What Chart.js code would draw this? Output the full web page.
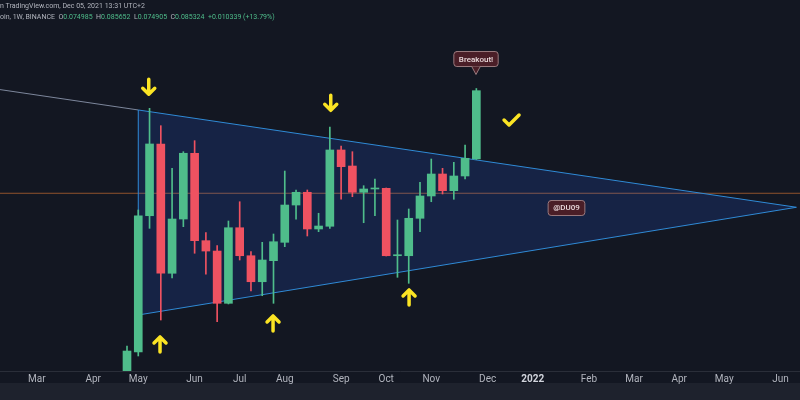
<!DOCTYPE html>
<html>
<head>
<meta charset="utf-8">
<script src="https://cdn.jsdelivr.net/npm/chart.js@4.4.0/dist/chart.umd.min.js"></script>
<style>
  html, body { margin: 0; padding: 0; background: #131722; }
</style>
</head>
<body>
<canvas id="chart" width="800" height="400"></canvas>
<script>
// weekly ETH/BTC candles, x = week number counted from Mon Mar 1 2021
const weeks  = [8, 9, 10, 11, 12, 13, 14, 15, 16, 17, 18, 19, 20, 21, 22, 23, 24, 25, 26, 27, 28, 29, 30, 31, 32, 33, 34, 35, 36, 37, 38, 39];
const opens  = [0.04285, 0.04573, 0.06638, 0.07725, 0.05766, 0.06588, 0.07584, 0.06260, 0.06103, 0.05311, 0.06456, 0.06032, 0.05638, 0.05957, 0.06235, 0.06800,
                0.06993, 0.06437, 0.06478, 0.07634, 0.07391, 0.06993, 0.07043, 0.07053, 0.06032, 0.06032, 0.06599, 0.06937, 0.07270, 0.07017, 0.07240, 0.074985];
const highs  = [0.04664, 0.06725, 0.08265, 0.08002, 0.07356, 0.07608, 0.07775, 0.06381, 0.06184, 0.06558, 0.06850, 0.06093, 0.06235, 0.06361, 0.07315, 0.07028,
                0.07028, 0.06675, 0.07982, 0.07694, 0.07608, 0.07093, 0.07194, 0.07058, 0.06573, 0.06740, 0.07144, 0.07497, 0.07356, 0.07447, 0.07709, 0.085652];
const lows   = [0.04225, 0.04513, 0.06447, 0.05058, 0.05694, 0.06472, 0.06069, 0.05751, 0.05032, 0.05301, 0.05967, 0.05498, 0.05426, 0.05311, 0.06169, 0.06584,
                0.06331, 0.06396, 0.06447, 0.06887, 0.06926, 0.06532, 0.06638, 0.06028, 0.05705, 0.05614, 0.06396, 0.06850, 0.06967, 0.06887, 0.07194, 0.074905];
const closes = [0.04588, 0.06638, 0.07725, 0.05766, 0.06588, 0.07584, 0.06260, 0.06103, 0.05311, 0.06456, 0.06032, 0.05638, 0.05967, 0.06244, 0.06800, 0.06993,
                0.06437, 0.06482, 0.07634, 0.07381, 0.06993, 0.07043, 0.07058, 0.06032, 0.06043, 0.06599, 0.06937, 0.07270, 0.07017, 0.07240, 0.07508, 0.085324];

// month ticks sit on the first weekly bar of each month
const tickWeeks  = [0, 5, 9, 14, 18, 22, 27, 31, 35, 40, 44, 49, 53, 57, 61, 66];
const tickLabels = ['Mar', 'Apr', 'May', 'Jun', 'Jul', 'Aug', 'Sep', 'Oct', 'Nov', 'Dec', '2022', 'Feb', 'Mar', 'Apr', 'May', 'Jun'];

// drawn triangle (top-left, apex, bottom-left) and the trendline running in from the left
const triWeeks   = [9, 67.4, 9, 9];
const triPrices  = [0.08240, 0.06766, 0.05134, 0.08240];
const extWeeks   = [-3.27, 9];
const extPrices  = [0.08549, 0.08240];
const levelPrice = 0.06978;

// chart markup: [kind, week, price]
const marks = [
  ['down', 9.93, 0.08584],
  ['down', 26.08, 0.08341],
  ['up', 10.93, 0.04695],
  ['up', 20.96, 0.05013],
  ['up', 33.03, 0.05407],
  ['check', 42.08, 0.08088]
];
const tags = [
  ['Breakout!', 38.97, 0.09012, true],
  ['@DU09', 47.0, 0.06755, false]
];

const upColor = '#4fbd8b';
const downColor = '#ef5261';
const candleColors = weeks.map((w, i) => closes[i] >= opens[i] ? upColor : downColor);

const bgPlugin = {
  id: 'bg',
  beforeDraw(chart) {
    const c = chart.ctx;
    c.save();
    c.fillStyle = '#131722';
    c.fillRect(0, 0, chart.width, chart.height);
    c.fillStyle = '#1e222d';
    c.fillRect(0, 383, chart.width, chart.height - 383);
    c.restore();
  }
};

function arrow(c, x, y, dir) {
  const s = dir === 'down' ? 1 : -1;
  c.beginPath();
  c.moveTo(x, y - 8 * s);
  c.lineTo(x, y + 7 * s);
  c.moveTo(x - 6, y + 1 * s);
  c.lineTo(x, y + 7 * s);
  c.lineTo(x + 6, y + 1 * s);
  c.stroke();
}

function tag(c, text, x, y, pointer) {
  c.font = '500 8px Roboto';
  const w = c.measureText(text).width + 10;
  const h = 15;
  c.beginPath();
  c.roundRect(x - w / 2, y - h / 2, w, h, 3);
  c.fillStyle = '#4a1e27';
  c.fill();
  c.strokeStyle = '#9a7a7e';
  c.lineWidth = 1;
  c.stroke();
  if (pointer) {
    c.beginPath();
    c.moveTo(x - 4, y + h / 2);
    c.lineTo(x, y + h / 2 + 8);
    c.lineTo(x + 4, y + h / 2);
    c.fillStyle = '#4a1e27';
    c.fill();
    c.beginPath();
    c.moveTo(x - 4, y + h / 2 + 0.5);
    c.lineTo(x, y + h / 2 + 8);
    c.lineTo(x + 4, y + h / 2 + 0.5);
    c.stroke();
  }
  c.fillStyle = '#eadadc';
  c.textAlign = 'center';
  c.textBaseline = 'middle';
  c.fillText(text, x, y + 0.5);
}

const markupPlugin = {
  id: 'markup',
  afterDatasetsDraw(chart) {
    const c = chart.ctx;
    const xs = chart.scales.x, ys = chart.scales.y;
    c.save();
    c.strokeStyle = '#fbe424';
    c.lineWidth = 3.5;
    c.lineCap = 'round';
    c.lineJoin = 'round';
    marks.forEach(([kind, w, p]) => {
      const x = xs.getPixelForValue(w), y = ys.getPixelForValue(p);
      if (kind === 'check') {
        c.beginPath();
        c.moveTo(x - 7, y);
        c.lineTo(x - 2, y + 5);
        c.lineTo(x + 8, y - 5);
        c.stroke();
      } else {
        arrow(c, x, y, kind);
      }
    });
    tags.forEach(([text, w, p, pointer]) => {
      tag(c, text, xs.getPixelForValue(w), ys.getPixelForValue(p), pointer);
    });

    // header
    c.textAlign = 'left';
    c.textBaseline = 'middle';
    c.font = '7px Roboto';
    c.fillStyle = '#b2b5be';
    c.fillText('n TradingView.com, Dec 05, 2021 13:31 UTC+2', 0, 6);
    let x = 0;
    const parts = [
      ['oin, 1W, BINANCE  ', '#b2b5be'],
      ['O', '#b2b5be'], ['0.074985  ', upColor],
      ['H', '#b2b5be'], ['0.085652  ', upColor],
      ['L', '#b2b5be'], ['0.074905  ', upColor],
      ['C', '#b2b5be'], ['0.085324  ', upColor],
      ['+0.010339 (+13.79%)', upColor]
    ];
    parts.forEach(([t, col]) => {
      c.fillStyle = col;
      c.fillText(t, x, 17);
      x += c.measureText(t).width;
    });
    c.restore();
  }
};

new Chart(document.getElementById('chart'), {
  type: 'bar',
  data: {
    datasets: [
      {
        type: 'bar',
        data: weeks.map((w, i) => ({x: w, y: [opens[i], closes[i]]})),
        backgroundColor: candleColors,
        barThickness: 8,
        minBarLength: 1,
        grouped: false,
        order: 1
      },
      {
        type: 'bar',
        data: weeks.map((w, i) => ({x: w, y: [lows[i], highs[i]]})),
        backgroundColor: candleColors,
        barThickness: 1,
        grouped: false,
        order: 2
      },
      {
        type: 'line',
        data: triWeeks.map((w, i) => ({x: w, y: triPrices[i]})),
        borderColor: '#2f8ad6',
        borderWidth: 1,
        backgroundColor: 'rgba(41,98,255,0.16)',
        fill: 'shape',
        pointRadius: 0,
        tension: 0,
        order: 3
      },
      {
        type: 'line',
        data: extWeeks.map((w, i) => ({x: w, y: extPrices[i]})),
        borderColor: '#7d879c',
        borderWidth: 1,
        pointRadius: 0,
        fill: false,
        order: 3
      },
      {
        type: 'line',
        data: [{x: -3.27, y: levelPrice}, {x: 67.72, y: levelPrice}],
        borderColor: 'rgba(226,124,52,0.6)',
        borderWidth: 1,
        pointRadius: 0,
        fill: false,
        order: 4
      }
    ]
  },
  options: {
    responsive: false,
    animation: false,
    layout: {padding: 0},
    plugins: {legend: {display: false}, tooltip: {enabled: false}},
    scales: {
      x: {
        type: 'linear',
        min: -3.27,
        max: 67.72,
        offset: false,
        grid: {display: false, drawTicks: false},
        border: {display: true, color: '#2a2e39'},
        afterBuildTicks: scale => { scale.ticks = tickWeeks.map(v => ({value: v})); },
        afterFit: scale => { scale.height = 29; },
        ticks: {
          autoSkip: false,
          maxRotation: 0,
          padding: 2,
          color: ctx => ctx.tick && ctx.tick.value === 44 ? '#d1d4dc' : '#b2b5be',
          font: ctx => ({family: 'Roboto', size: 10, weight: ctx.tick && ctx.tick.value === 44 ? 'bold' : 'normal'}),
          callback: v => tickLabels[tickWeeks.indexOf(v)]
        }
      },
      y: {
        display: false,
        min: 0.042855,
        max: 0.099061
      }
    }
  },
  plugins: [bgPlugin, markupPlugin]
});
</script>
</body>
</html>
